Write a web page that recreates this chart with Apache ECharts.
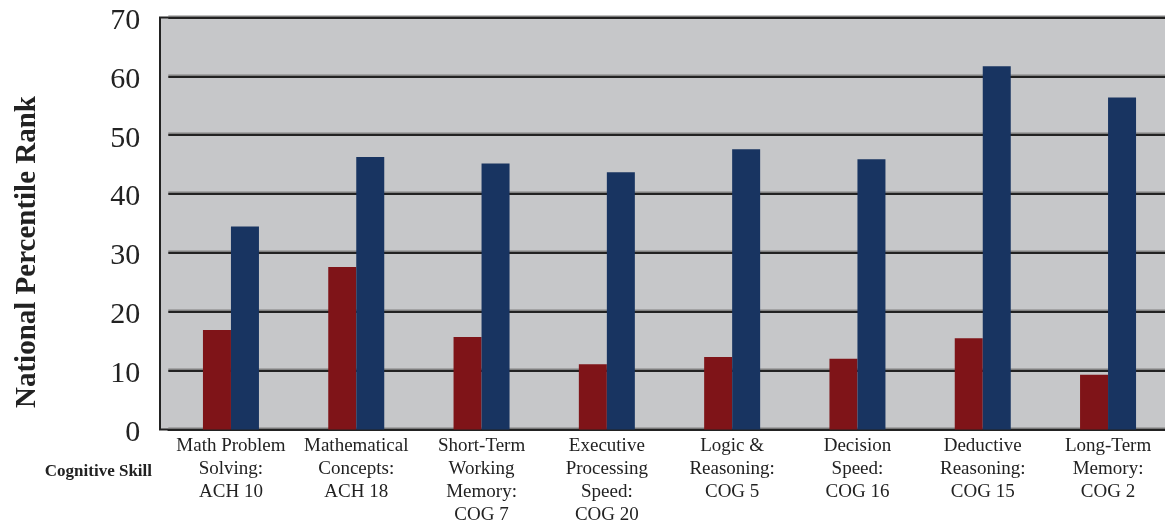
<!DOCTYPE html>
<html>
<head>
<meta charset="utf-8">
<script src="https://cdn.jsdelivr.net/npm/echarts@6/dist/echarts.min.js"></script>
<style>
  html, body { margin: 0; padding: 0; background: #ffffff; }
  #chart { width: 1165px; height: 521px; }
</style>
</head>
<body>
<div id="chart"></div>
<script>
// Cognitive skill categories (ACH = achievement, COG = cognitive)
const categories = [
  'Math Problem\nSolving:\nACH 10',
  'Mathematical\nConcepts:\nACH 18',
  'Short-Term\nWorking\nMemory:\nCOG 7',
  'Executive\nProcessing\nSpeed:\nCOG 20',
  'Logic &\nReasoning:\nCOG 5',
  'Decision\nSpeed:\nCOG 16',
  'Deductive\nReasoning:\nCOG 15',
  'Long-Term\nMemory:\nCOG 2'
];

// National percentile rank, two groups
const groupA = [16.9, 27.6, 15.7, 11.1, 12.3, 12.0, 15.5, 9.3];
const groupB = [34.5, 46.3, 45.2, 43.7, 47.6, 45.9, 61.7, 56.4];

const yTicks = { min: 0, max: 70, interval: 10 };

const serif = "'Liberation Serif', 'Times New Roman', 'DejaVu Serif', serif";

const chart = echarts.init(document.getElementById('chart'), null, { renderer: 'canvas' });

chart.setOption({
  animation: false,
  backgroundColor: '#ffffff',
  grid: {
    left: 168.3,
    right: -5.7,
    top: 17.5,
    bottom: 91.5,
    containLabel: false,
    outerBoundsMode: 'none'
  },
  graphic: [
    {
      type: 'rect',
      z: -10,
      silent: true,
      shape: { x: 160, y: 17.5, width: 1020, height: 412 },
      style: { fill: '#c6c7c9', stroke: '#222222', lineWidth: 2 }
    },
    {
      type: 'text',
      silent: true,
      x: 28,
      y: 252,
      rotation: Math.PI / 2,
      style: {
        text: 'National Percentile Rank',
        font: 'bold 29px ' + serif,
        fill: '#222222',
        align: 'center',
        verticalAlign: 'middle'
      }
    },
    {
      type: 'text',
      silent: true,
      x: 152,
      y: 472,
      style: {
        text: 'Cognitive Skill',
        font: 'bold 17px ' + serif,
        fill: '#222222',
        align: 'right',
        verticalAlign: 'middle'
      }
    }
  ],
  xAxis: {
    type: 'category',
    data: categories,
    axisLine: { show: true, lineStyle: { color: '#222222', width: 2 } },
    axisTick: { show: false },
    axisLabel: {
      interval: 0,
      margin: 5,
      color: '#222222',
      fontFamily: serif,
      fontSize: 19,
      lineHeight: 23,
      align: 'center'
    },
    splitLine: { show: false }
  },
  yAxis: {
    type: 'value',
    min: yTicks.min,
    max: yTicks.max,
    interval: yTicks.interval,
    offset: 8,
    axisLine: { show: false },
    axisTick: { show: false },
    axisLabel: {
      margin: 20,
      formatter: (v) => '{n|' + v + '}',
      rich: {
        n: {
          color: '#222222',
          fontFamily: serif,
          fontSize: 30,
          padding: [7, 0, 0, 0]
        }
      }
    },
    splitLine: {
      show: true,
      lineStyle: {
        color: '#222222',
        width: 2,
        shadowColor: 'rgba(120,120,120,0.9)',
        shadowOffsetY: -1.5,
        shadowBlur: 0
      }
    }
  },
  series: [
    {
      name: 'Group A',
      type: 'bar',
      data: groupA,
      barWidth: 28,
      barGap: '0%',
      itemStyle: { color: '#7f1418' }
    },
    {
      name: 'Group B',
      type: 'bar',
      data: groupB,
      barWidth: 28,
      barGap: '0%',
      itemStyle: { color: '#183461' }
    }
  ]
});
</script>
</body>
</html>
